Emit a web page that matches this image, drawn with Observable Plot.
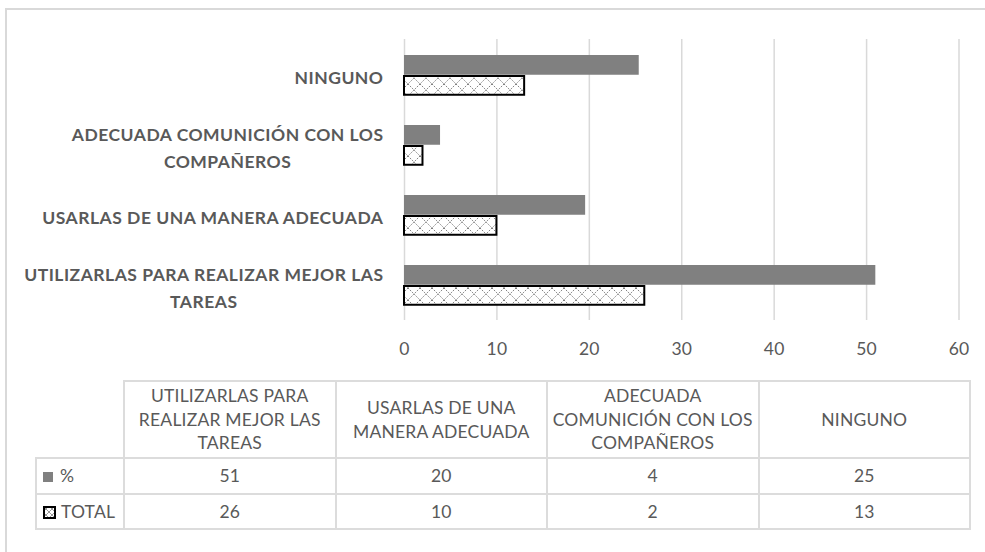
<!DOCTYPE html>
<html>
<head>
<meta charset="utf-8">
<script src="https://cdn.jsdelivr.net/npm/d3@7"></script>
<script src="https://cdn.jsdelivr.net/npm/@observablehq/plot@0.6"></script>
<style>
  html, body { margin: 0; padding: 0; background: #fff; overflow: hidden; }
  body { width: 985px; height: 552px; position: relative; font-family: Lato, sans-serif; }
  #frame { position: absolute; left: 5px; top: 8px; width: 1200px; height: 800px;
           border-left: 2px solid #d9d9d9; border-top: 2px solid #d9d9d9; }
  #chart { position: absolute; left: 0; top: 0; }
  #chart svg text { letter-spacing: 0.2px; }
  #chart svg text.catlabel { letter-spacing: 0.5px; }
  #tbl { position: absolute; left: 35px; top: 380px; border-collapse: collapse; table-layout: fixed;
         width: 934px; color: #595959; font-size: 17.5px; line-height: 23.5px; letter-spacing: 0.2px; }
  #tbl td { border: 2px solid #dcdcdc; text-align: center; vertical-align: middle; padding: 0;
            white-space: pre-line; }
  #tbl td.blank { border-top: none; border-left: none; }
  #tbl tr.h td { height: 75px; }
  #tbl tr.r1 td { height: 34px; }
  #tbl tr.r2 td { height: 33px; }
  #tbl td.leg { text-align: left; padding-left: 6px; white-space: nowrap; }
</style>
</head>
<body>
<div id="frame"></div>
<div id="chart"></div>
<script>
// ---- data ----
const categories = [
  "UTILIZARLAS PARA REALIZAR MEJOR LAS TAREAS",
  "USARLAS DE UNA MANERA ADECUADA",
  "ADECUADA COMUNICIÓN CON LOS COMPAÑEROS",
  "NINGUNO"
];
const axisLabels = [
  "UTILIZARLAS PARA REALIZAR MEJOR LAS\nTAREAS",
  "USARLAS DE UNA MANERA ADECUADA",
  "ADECUADA COMUNICIÓN CON LOS\nCOMPAÑEROS",
  "NINGUNO"
];
const tableHeaders = [
  "UTILIZARLAS PARA\nREALIZAR MEJOR LAS\nTAREAS",
  "USARLAS DE UNA\nMANERA ADECUADA",
  "ADECUADA\nCOMUNICIÓN CON LOS\nCOMPAÑEROS",
  "NINGUNO"
];
const seriesNames = ["%", "TOTAL"];
const pctValues = [51, 19.6, 3.9, 25.4];
const totalValues = [26, 10, 2, 13];
const xTicks = [0, 10, 20, 30, 40, 50, 60];

// ---- build rows ----
const rows = categories.map((c, i) => ({
  category: c, label: axisLabels[i], pct: pctValues[i], total: totalValues[i]
}));
const yDomain = categories.slice().reverse();

const svg = Plot.plot({
  width: 985,
  height: 375,
  marginLeft: 404,
  marginRight: 26.5,
  marginTop: 39,
  marginBottom: 55,
  style: { background: "transparent", fontFamily: "Lato, sans-serif", fontSize: "17.5px", color: "#595959", overflow: "visible" },
  x: { domain: [0, 60], ticks: xTicks, tickSize: 0, tickPadding: 22, label: null, tickFormat: d3.format("d") },
  y: { domain: yDomain, axis: null, padding: 0 },
  marks: [
    Plot.ruleX(xTicks, { stroke: "#d9d9d9", strokeWidth: 1.5 }),
    Plot.barX(rows, { x: "pct", y: "category", fill: "#808080", insetTop: 15, insetBottom: 35.25 }),
    Plot.barX(rows, { x: "total", y: "category", fill: "url(#hatch)", stroke: "#000", strokeWidth: 2, insetTop: 36, insetBottom: 15.25 }),
    Plot.text(rows, { y: "category", text: "label", frameAnchor: "left", dx: -21, textAnchor: "end",
                      fontWeight: "bold", fontSize: 17.5, fill: "#595959", lineHeight: 1.54 })
  ]
});

// pattern defs
const defs = d3.select(svg).insert("defs", ":first-child");
const hp = defs.append("pattern").attr("id", "hatch").attr("patternUnits", "userSpaceOnUse")
  .attr("width", 12).attr("height", 12);
hp.append("rect").attr("width", 12).attr("height", 12).attr("fill", "#fff");
hp.append("path").attr("d", "M0,0L12,12M12,0L0,12")
  .attr("stroke", "#808080").attr("stroke-width", 1).attr("stroke-dasharray", "1.5,1.2").attr("fill", "none");
const hs = defs.append("pattern").attr("id", "hatchS").attr("patternUnits", "userSpaceOnUse")
  .attr("width", 6).attr("height", 6);
hs.append("rect").attr("width", 6).attr("height", 6).attr("fill", "#fff");
hs.append("path").attr("d", "M0,0L6,6M6,0L0,6").attr("stroke", "#808080").attr("stroke-width", 0.8);

document.getElementById("chart").appendChild(svg);

// category labels: center-align lines within a right-aligned block
d3.select(svg).selectAll("text").each(function () {
  if (this.closest("g") && this.getAttribute("font-weight") !== "bold" && !(this.parentNode && this.parentNode.getAttribute && this.parentNode.getAttribute("font-weight") === "bold")) return;
  this.classList.add("catlabel");
});
d3.select(svg).selectAll("text.catlabel").each(function () {
  const tspans = this.querySelectorAll("tspan");
  if (tspans.length > 1) {
    let maxW = 0;
    tspans.forEach(t => { maxW = Math.max(maxW, t.getComputedTextLength()); });
    this.setAttribute("text-anchor", "middle");
    tspans.forEach(t => t.setAttribute("x", -maxW / 2));
  }
});

// ---- data table ----
const fmt = d3.format(".0f");
const table = document.createElement("table");
table.id = "tbl";
const cg = document.createElement("colgroup");
[88, 211.5, 211.5, 211.5, 211.5].forEach(w => { const c = document.createElement("col"); c.style.width = w + "px"; cg.appendChild(c); });
table.appendChild(cg);

const hr = table.insertRow(); hr.className = "h";
const blank = hr.insertCell(); blank.className = "blank";
tableHeaders.forEach(h => { const td = hr.insertCell(); td.textContent = h; });

const series = [pctValues, totalValues];
series.forEach((vals, si) => {
  const tr = table.insertRow(); tr.className = si === 0 ? "r1" : "r2";
  const leg = tr.insertCell(); leg.className = "leg";
  if (si === 0) {
    leg.innerHTML = '<span style="display:inline-block;width:10px;height:10px;background:#808080;margin-right:7px;vertical-align:0px"></span>';
  } else {
    leg.innerHTML = '<svg width="13" height="13" style="vertical-align:-1px;margin-right:5px"><rect x="1" y="1" width="11" height="11" fill="url(#hatchS)" stroke="#000" stroke-width="2"/></svg>';
  }
  leg.appendChild(document.createTextNode(seriesNames[si]));
  vals.forEach(v => { const td = tr.insertCell(); td.textContent = fmt(v); });
});
document.body.appendChild(table);
</script>
</body>
</html>
